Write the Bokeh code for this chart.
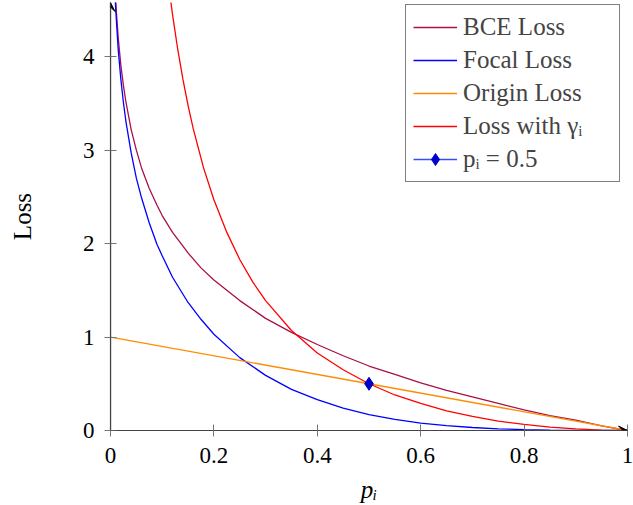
from bokeh.plotting import figure
from bokeh.models import Range1d, Arrow, VeeHead, Legend, LegendItem
from bokeh.embed import file_html
from bokeh.resources import INLINE

# ---- data ----
p_bce = [0.008, 0.011, 0.015, 0.02, 0.025, 0.03, 0.04, 0.05, 0.06, 0.075, 0.09, 0.1, 0.12,
         0.15, 0.175, 0.2, 0.25, 0.3, 0.35, 0.4, 0.45, 0.5, 0.55, 0.6, 0.65, 0.7, 0.75,
         0.8, 0.85, 0.9, 0.95, 1.0]
bce_loss = [4.83, 4.51, 4.20, 3.91, 3.69, 3.51, 3.22, 3.00, 2.81, 2.59, 2.41, 2.30, 2.12,
            1.90, 1.74, 1.61, 1.39, 1.20, 1.05, 0.92, 0.80, 0.69, 0.60, 0.51, 0.43, 0.36, 0.29,
            0.22, 0.16, 0.11, 0.05, 0.0]

p_focal = [0.008, 0.01, 0.015, 0.02, 0.025, 0.03, 0.04, 0.05, 0.06, 0.075, 0.09, 0.1, 0.12,
           0.15, 0.175, 0.2, 0.25, 0.3, 0.35, 0.4, 0.45, 0.5, 0.55, 0.6, 0.65, 0.7, 0.75,
           0.8, 0.85, 0.9, 0.95, 1.0]
focal_loss = [4.75, 4.51, 4.07, 3.76, 3.51, 3.30, 2.97, 2.70, 2.49, 2.22, 1.99, 1.87, 1.64,
              1.37, 1.19, 1.03, 0.78, 0.59, 0.44, 0.33, 0.24, 0.17, 0.12, 0.08, 0.053, 0.032, 0.018,
              0.009, 0.004, 0.001, 0.0, 0.0]

p_origin = [0.0, 1.0]
origin_loss = [1.0, 0.0]

p_gamma = [0.11, 0.12, 0.13, 0.14, 0.15, 0.16, 0.18, 0.2, 0.225, 0.25, 0.275, 0.3, 0.35,
           0.4, 0.45, 0.5, 0.55, 0.6, 0.65, 0.7, 0.75, 0.8, 0.85, 0.9, 0.95, 1.0]
gamma_loss = [4.87, 4.45, 4.08, 3.76, 3.48, 3.23, 2.81, 2.47, 2.12, 1.83, 1.59, 1.39, 1.07,
              0.83, 0.65, 0.50, 0.38, 0.29, 0.21, 0.15, 0.10, 0.065, 0.037, 0.017, 0.005, 0.0]

p_mark = [0.5]
mark_loss = [0.5]

x_ticks = [0, 0.2, 0.4, 0.6, 0.8, 1]
y_ticks = [0, 1, 2, 3, 4]
x_min, x_max = 0.0, 1.0
y_min, y_max = 0.0, 4.58

SERIF = "Liberation Serif"
AXIS_COL = "#444444"

p = figure(width=633, height=505, output_backend="svg", toolbar_location=None,
           x_range=Range1d(x_min, x_max), y_range=Range1d(y_min, y_max),
           min_border_left=110, min_border_right=6, min_border_top=2, min_border_bottom=74)
p.outline_line_color = None
p.grid.visible = False
p.background_fill_color = "white"

for ax in (p.xaxis[0], p.yaxis[0]):
    ax.axis_line_color = AXIS_COL
    ax.axis_line_width = 1.2
    ax.major_tick_line_color = "#777777"
    ax.major_tick_in = 6
    ax.major_tick_out = 6
    ax.minor_tick_line_color = None
    ax.major_label_text_font = SERIF
    ax.major_label_text_font_size = "23px"
    ax.major_label_text_color = "black"
    ax.axis_label_text_font = SERIF
    ax.axis_label_text_font_size = "25px"
    ax.axis_label_text_color = "black"

p.xaxis.ticker = x_ticks
p.yaxis.ticker = y_ticks
p.xaxis.major_label_overrides = {0: "0", 1: "1"}
p.xaxis.major_label_standoff = 11
p.yaxis.major_label_standoff = 10
p.xaxis.axis_label = "pᵢ"
p.xaxis.axis_label_text_font_style = "italic"
p.xaxis.axis_label_standoff = 10
p.yaxis.axis_label = "Loss"
p.yaxis.axis_label_text_font_style = "normal"
p.yaxis.axis_label_standoff = 44

# axis arrows
p.add_layout(Arrow(end=VeeHead(size=9, line_color="black", fill_color="black", line_width=1),
                   x_start=x_min, y_start=y_min, x_end=x_max, y_end=y_min,
                   line_color=AXIS_COL, line_width=1.2))
p.add_layout(Arrow(end=VeeHead(size=9, line_color="black", fill_color="black", line_width=1),
                   x_start=x_min, y_start=y_min, x_end=x_min, y_end=y_max,
                   line_color=AXIS_COL, line_width=1.2))

lw = 1.3
r_bce = p.line(p_bce, bce_loss, line_color="#A8104A", line_width=lw)
r_focal = p.line(p_focal, focal_loss, line_color="#0000FF", line_width=lw)
r_origin = p.line(p_origin, origin_loss, line_color="#FF8C00", line_width=lw)
r_gamma = p.line(p_gamma, gamma_loss, line_color="#FF0000", line_width=lw)
r_mark_line = p.line(p_mark, mark_loss, line_color="#3050FF", line_width=lw)
r_mark = p.scatter(p_mark, mark_loss, marker="diamond", size=13,
                   fill_color="#0000CC", line_color="#0000CC")

legend = Legend(items=[
    LegendItem(label="BCE Loss", renderers=[r_bce]),
    LegendItem(label="Focal Loss", renderers=[r_focal]),
    LegendItem(label="Origin Loss", renderers=[r_origin]),
    LegendItem(label="Loss with γᵢ", renderers=[r_gamma]),
    LegendItem(label="pᵢ = 0.5", renderers=[r_mark_line, r_mark]),
], location=(295, 248))
legend.border_line_color = "black"
legend.border_line_width = 1
legend.background_fill_alpha = 1
legend.label_text_font = SERIF
legend.label_text_font_size = "25px"
legend.glyph_width = 44
legend.glyph_height = 30
legend.label_height = 30
legend.label_standoff = 6
legend.label_width = 149
legend.spacing = 3
legend.padding = 7
legend.margin = 0
p.add_layout(legend, "center")

open("out.html", "w").write(file_html(p, INLINE))
